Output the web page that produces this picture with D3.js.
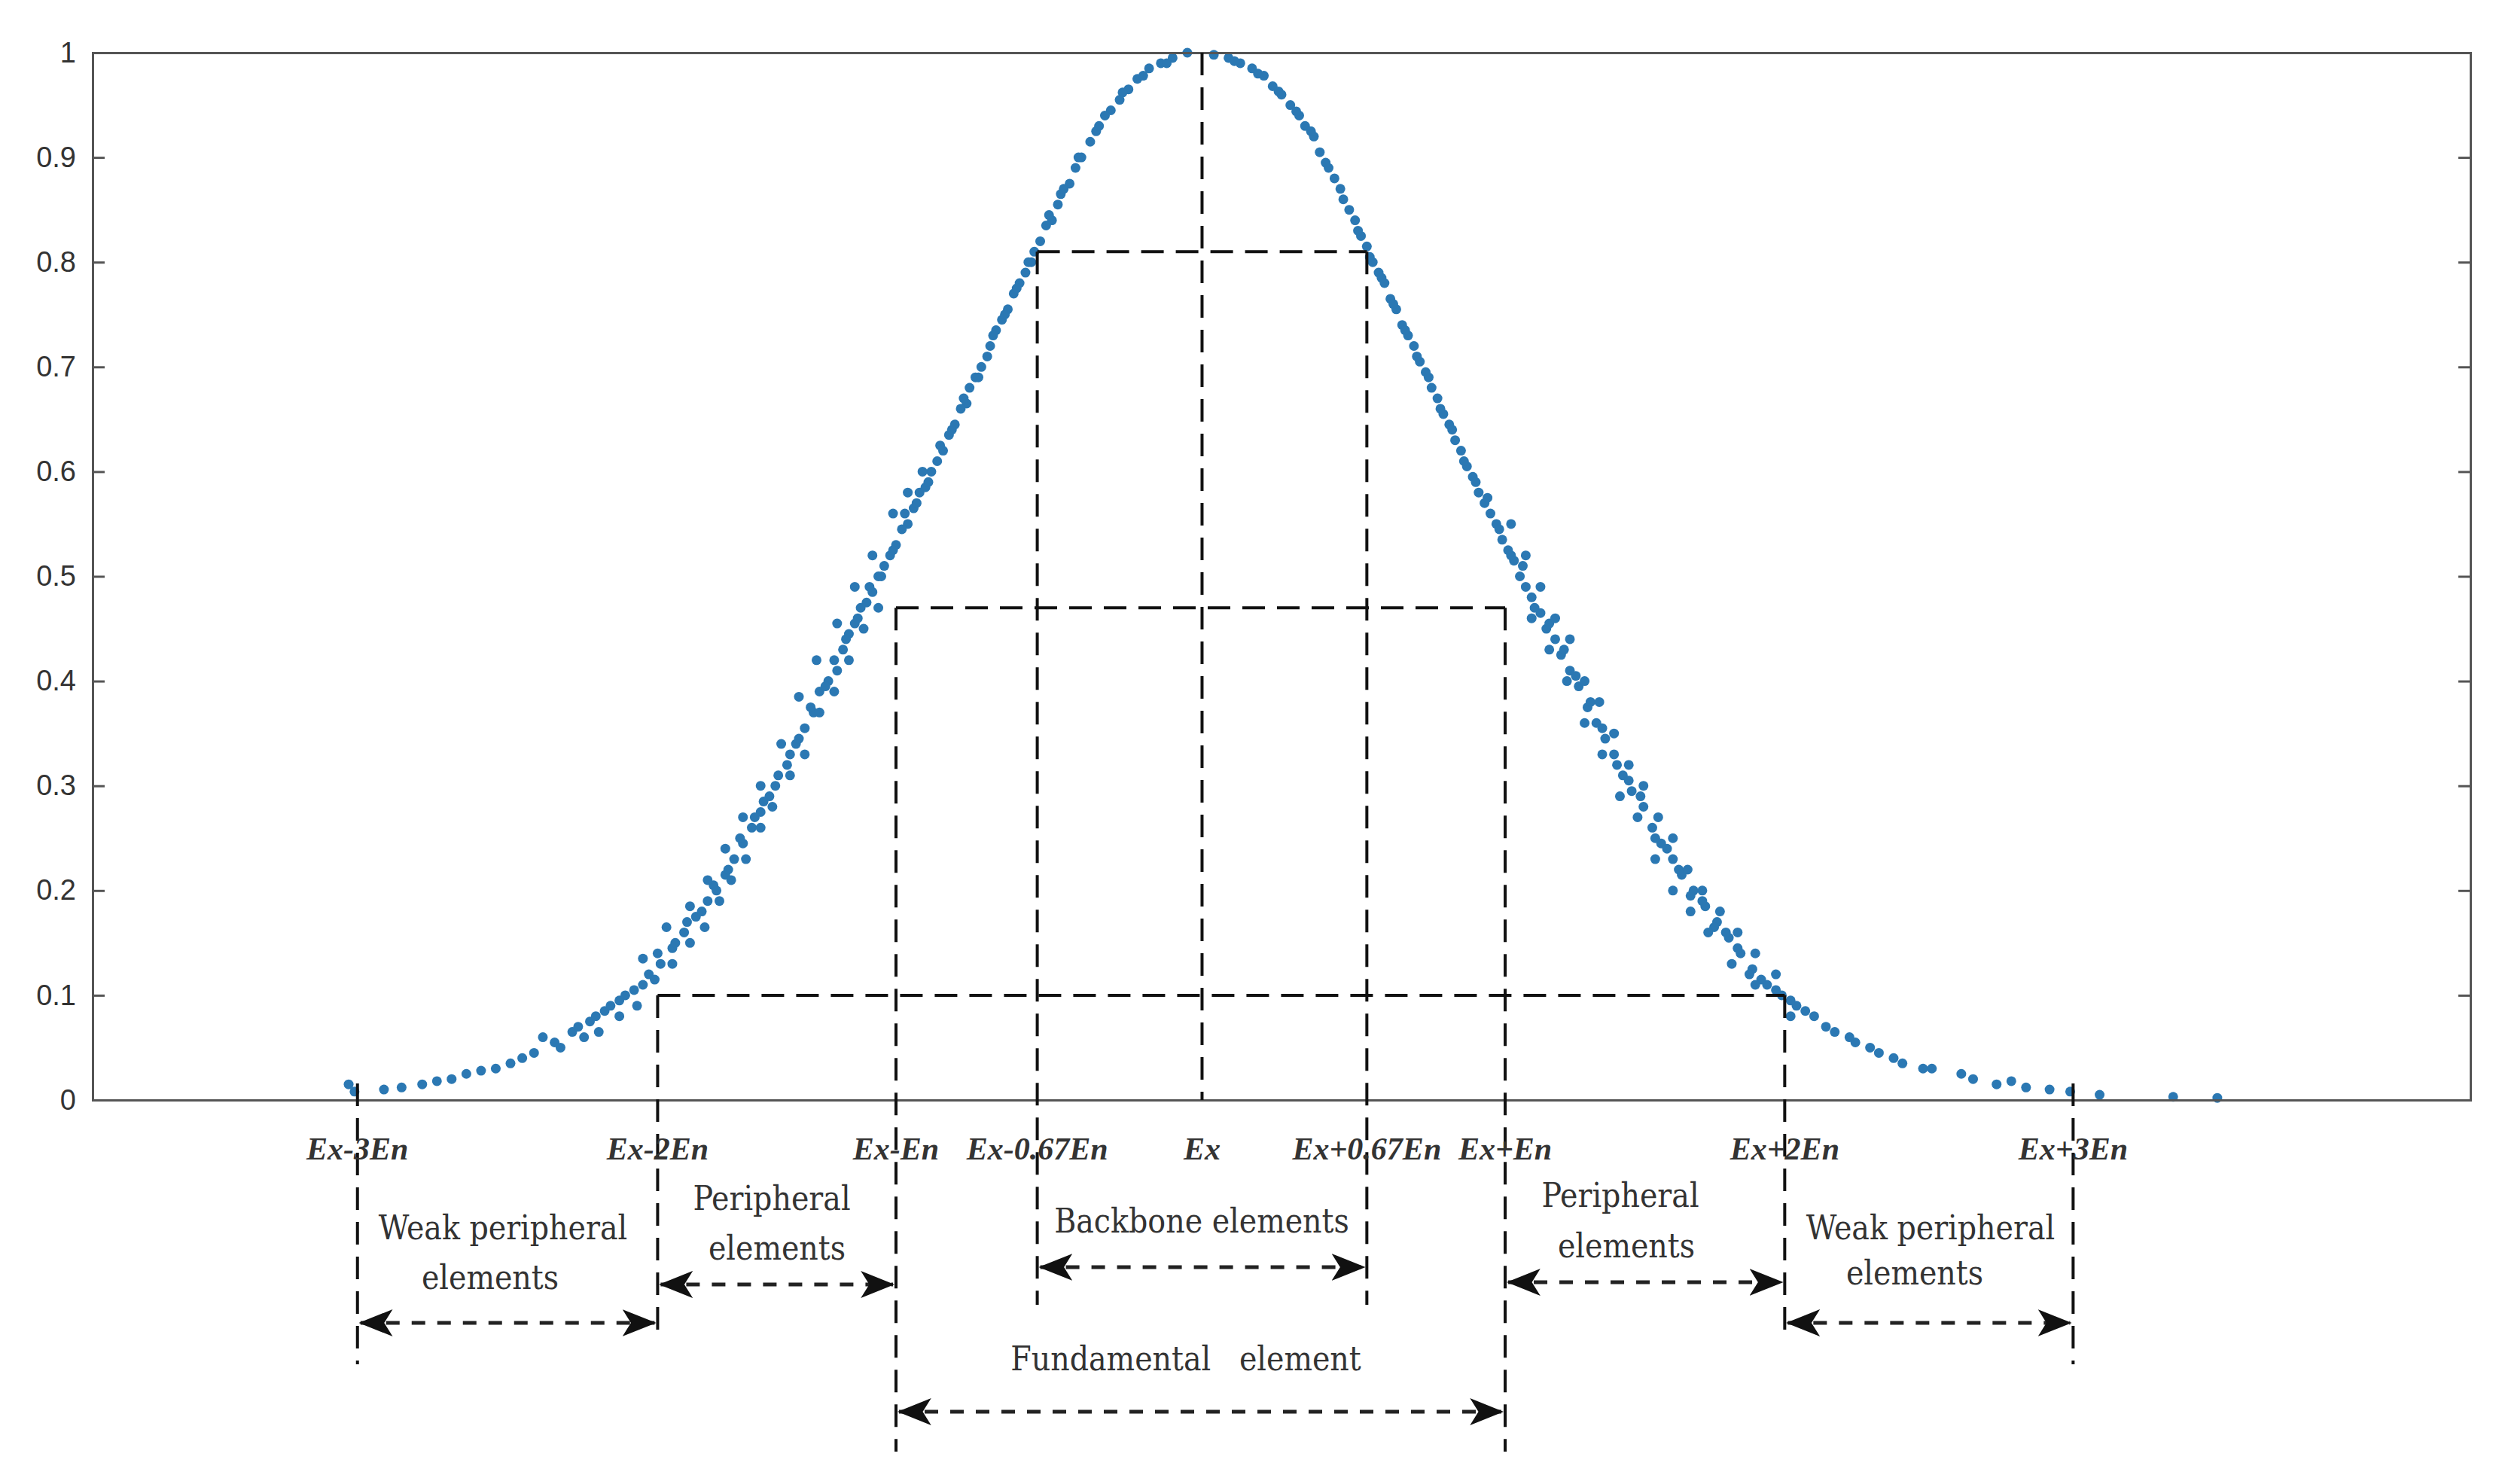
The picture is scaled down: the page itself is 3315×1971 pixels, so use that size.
<!DOCTYPE html>
<html><head><meta charset="utf-8">
<script src="https://cdn.jsdelivr.net/npm/d3@7/dist/d3.min.js"></script>
<style>body{margin:0;background:#fff}</style>
</head><body><div id="chart"></div>
<script>
// x in En units (Ex = 0), y = certainty degree
const yTicks = [0, 0.1, 0.2, 0.3, 0.4, 0.5, 0.6, 0.7, 0.8, 0.9, 1];
const xMarks = [-2.87, -1.85, -1.04, -0.56, 0, 0.56, 1.03, 1.98, 2.96];
const xMarkLabels = ["Ex-3En", "Ex-2En", "Ex-En", "Ex-0.67En", "Ex", "Ex+0.67En", "Ex+En", "Ex+2En", "Ex+3En"];
// bottom end of each dashed vertical (page px)
const xMarkEnds = [1812, 1780, 1928, 1733, 1461, 1733, 1928, 1780, 1812];
// boxes: [level, left mark index, right mark index]
const levels = [[0.81, 3, 5], [0.47, 2, 6], [0.1, 1, 7]];
// span arrows: [from mark, to mark, page y]
const spans = [[0, 1, 1757], [1, 2, 1706], [3, 5, 1683], [2, 6, 1875], [6, 7, 1703], [7, 8, 1757]];
const spanLabels = [
  [["Weak peripheral", 668, 1646], ["elements", 651, 1712]],
  [["Peripheral", 1025, 1607], ["elements", 1032, 1673]],
  [["Backbone elements", 1596, 1637]],
  [["Fundamental   element", 1575, 1820]],
  [["Peripheral", 2152, 1603], ["elements", 2160, 1670]],
  [["Weak peripheral", 2564, 1646], ["elements", 2543, 1706]]
];

const dropsLeft = [[-0.05,1.0],[-0.1,0.995],[-0.14,0.99],[-0.18,0.985],[-0.22,0.975],[-0.25,0.965],[-0.28,0.955],[-0.31,0.945],[-0.33,0.94],[-0.36,0.925],[-0.38,0.915],[-0.41,0.90],[-0.43,0.89],[-0.45,0.875],[-0.47,0.87],[-0.49,0.855],[-0.51,0.84],[-0.53,0.835],[-0.55,0.82],[-0.57,0.81],[-0.59,0.80],[-0.60,0.79],[-0.62,0.78],[-0.64,0.77],[-0.66,0.755],[-0.68,0.745],[-0.70,0.735],[-0.72,0.72],[-0.73,0.71],[-0.75,0.70],[-0.77,0.69],[-0.79,0.68],[-0.80,0.665],[-0.82,0.66],[-0.84,0.645],[-0.86,0.635],[-0.88,0.62],[-0.90,0.61],[-0.92,0.60],[-0.94,0.585],[-0.96,0.58],[-0.98,0.565],[-1.00,0.55],[-1.02,0.545],[-1.04,0.53],[-1.06,0.52],[-1.08,0.51],[-1.10,0.50],[-1.12,0.485],[-1.14,0.475],[-1.16,0.47],[-1.18,0.455],[-1.20,0.445],[-1.22,0.43],[-1.25,0.42],[-1.27,0.40],[-1.30,0.39],[-1.32,0.37],[-1.35,0.355],[-1.38,0.34],[-1.41,0.32],[-1.44,0.31],[-1.47,0.29],[-1.50,0.275],[-1.53,0.26],[-1.56,0.245],[-1.59,0.23],[-1.62,0.215],[-1.65,0.20],[-1.68,0.19],[-1.72,0.175],[-1.76,0.16],[-1.80,0.145],[-1.84,0.13],[-1.88,0.12],[-1.93,0.105],[-1.98,0.095],[-2.03,0.085],[-2.08,0.075],[-2.14,0.065],[-2.2,0.055],[-2.27,0.045],[-2.35,0.035],[-2.45,0.028],[-2.55,0.02],[-2.65,0.015],[-2.78,0.01],[-2.88,0.008],
[-0.12,0.99],[-0.2,0.978],[-0.27,0.962],[-0.35,0.93],[-0.42,0.9],[-0.48,0.865],[-0.52,0.845],[-0.58,0.8],[-0.63,0.775],[-0.67,0.75],[-0.71,0.73],[-0.76,0.69],[-0.81,0.67],[-0.85,0.64],[-0.89,0.625],[-0.93,0.59],[-0.97,0.57],[-1.01,0.56],[-1.05,0.525],[-1.09,0.50],[-1.13,0.49],[-1.17,0.46],[-1.21,0.44],[-1.24,0.41],[-1.28,0.395],[-1.33,0.375],[-1.37,0.345],[-1.40,0.33],[-1.45,0.30],[-1.49,0.285],[-1.52,0.27],[-1.57,0.25],[-1.61,0.22],[-1.66,0.205],[-1.70,0.18],[-1.75,0.17],[-1.79,0.15],[-1.85,0.14],[-1.90,0.11],[-1.96,0.10],[-2.01,0.09],[-2.06,0.08],[-2.12,0.07],[-2.24,0.06],[-2.31,0.04],[-2.4,0.03],[-2.5,0.025],[-2.6,0.018],[-2.72,0.012],[-2.9,0.015],
[-1.10,0.47],[-1.15,0.45],[-1.2,0.42],[-1.25,0.39],[-1.3,0.37],[-1.35,0.33],[-1.4,0.31],[-1.46,0.28],[-1.5,0.26],[-1.55,0.23],[-1.6,0.21],[-1.64,0.19],[-1.69,0.165],[-1.74,0.15],[-1.8,0.13],[-1.86,0.115],[-1.92,0.09],[-1.98,0.08],[-2.05,0.065],[-2.1,0.06],[-2.18,0.05],[-1.05,0.56],[-1.0,0.58],[-0.95,0.6],[-1.12,0.52],[-1.18,0.49],[-1.24,0.455],[-1.31,0.42],[-1.37,0.385],[-1.43,0.34],[-1.5,0.3],[-1.56,0.27],[-1.62,0.24],[-1.68,0.21],[-1.74,0.185],[-1.82,0.165],[-1.9,0.135]];

const dropsRight = [[0.04,0.998],[0.09,0.995],[0.13,0.99],[0.17,0.985],[0.21,0.978],[0.24,0.968],[0.27,0.96],[0.3,0.95],[0.33,0.94],[0.35,0.93],[0.38,0.92],[0.4,0.905],[0.42,0.895],[0.45,0.88],[0.47,0.87],[0.5,0.85],[0.52,0.84],[0.54,0.825],[0.56,0.815],[0.58,0.8],[0.6,0.79],[0.62,0.78],[0.64,0.765],[0.66,0.755],[0.68,0.74],[0.7,0.73],[0.72,0.72],[0.74,0.705],[0.76,0.695],[0.78,0.68],[0.8,0.67],[0.82,0.655],[0.84,0.645],[0.86,0.63],[0.88,0.62],[0.9,0.605],[0.92,0.595],[0.94,0.58],[0.96,0.57],[0.98,0.56],[1.0,0.55],[1.02,0.535],[1.04,0.525],[1.06,0.515],[1.08,0.5],[1.1,0.49],[1.12,0.48],[1.15,0.465],[1.17,0.45],[1.2,0.44],[1.22,0.425],[1.25,0.41],[1.28,0.395],[1.31,0.375],[1.34,0.36],[1.37,0.345],[1.4,0.33],[1.43,0.31],[1.46,0.295],[1.5,0.28],[1.53,0.26],[1.56,0.245],[1.6,0.23],[1.63,0.215],[1.67,0.2],[1.71,0.185],[1.75,0.17],[1.79,0.155],[1.83,0.14],[1.87,0.125],[1.92,0.11],[1.97,0.1],[2.02,0.09],[2.08,0.08],[2.15,0.065],[2.22,0.055],[2.3,0.045],[2.38,0.035],[2.48,0.03],[2.58,0.025],[2.7,0.015],[2.8,0.012],[2.95,0.008],[3.05,0.005],[3.3,0.003],[3.45,0.002],
[0.11,0.992],[0.19,0.98],[0.26,0.963],[0.32,0.944],[0.37,0.925],[0.43,0.89],[0.48,0.86],[0.53,0.83],[0.57,0.805],[0.61,0.785],[0.65,0.76],[0.69,0.735],[0.73,0.71],[0.77,0.69],[0.81,0.66],[0.85,0.64],[0.89,0.61],[0.93,0.59],[0.97,0.575],[1.01,0.545],[1.05,0.52],[1.09,0.51],[1.13,0.47],[1.18,0.455],[1.23,0.43],[1.27,0.405],[1.32,0.38],[1.36,0.355],[1.41,0.32],[1.45,0.305],[1.49,0.29],[1.54,0.25],[1.58,0.24],[1.62,0.22],[1.66,0.195],[1.7,0.19],[1.74,0.165],[1.78,0.16],[1.82,0.145],[1.86,0.12],[1.9,0.115],[1.95,0.105],[2.0,0.095],[2.05,0.085],[2.12,0.07],[2.2,0.06],[2.27,0.05],[2.35,0.04],[2.45,0.03],[2.62,0.02],[2.75,0.018],[2.88,0.01],
[1.05,0.55],[1.1,0.52],[1.15,0.49],[1.2,0.46],[1.25,0.44],[1.3,0.4],[1.35,0.38],[1.4,0.35],[1.45,0.32],[1.5,0.3],[1.55,0.27],[1.6,0.25],[1.65,0.22],[1.7,0.2],[1.76,0.18],[1.82,0.16],[1.88,0.14],[1.95,0.12],[1.12,0.46],[1.18,0.43],[1.24,0.4],[1.3,0.36],[1.36,0.33],[1.42,0.29],[1.48,0.27],[1.54,0.23],[1.6,0.2],[1.66,0.18],[1.72,0.16],[1.8,0.13],[1.88,0.11],[2.0,0.08]];

const width = 3315, height = 1971;
const margin = {left: 123, right: 34, top: 70, bottom: 510};

const svg = d3.select("#chart").append("svg")
    .attr("width", width).attr("height", height);

const x = d3.scaleLinear().domain([-3.77, 4.31]).range([margin.left, width - margin.right]);
const y = d3.scaleLinear().domain([0, 1]).range([height - margin.bottom, margin.top]);

// drops
svg.append("g").selectAll("circle")
    .data(dropsLeft.concat(dropsRight))
    .join("circle")
    .attr("cx", d => x(d[0]))
    .attr("cy", d => y(d[1]))
    .attr("r", 6.5)
    .attr("fill", "#2b78b3");

// axes box
const yAxis = d3.axisLeft(y).tickValues(yTicks).tickSize(-16).tickPadding(22)
    .tickFormat(d => d === 0 ? "0" : d === 1 ? "1" : d3.format(".1f")(d));
const gy = svg.append("g").attr("transform", `translate(${margin.left},0)`).call(yAxis);
gy.selectAll("text").attr("font-family", "Liberation Sans, Arial").attr("font-size", 38).attr("fill", "#333");
svg.append("g").attr("transform", `translate(${width - margin.right},0)`)
    .call(d3.axisRight(y).tickValues(yTicks).tickSize(-16).tickFormat(""));
svg.append("g").attr("transform", `translate(0,${y(0)})`)
    .call(d3.axisBottom(x).tickValues([]).tickSizeOuter(0));
svg.append("g").attr("transform", `translate(0,${y(1)})`)
    .call(d3.axisTop(x).tickValues([]).tickSizeOuter(0));
svg.selectAll(".domain, .tick line").attr("stroke", "#555").attr("stroke-width", 3);

const dash = "30,16";
const lines = svg.append("g").attr("stroke", "#111").attr("stroke-width", 4).attr("fill", "none");

// horizontal levels
levels.forEach(([lv, a, b]) => {
  lines.append("line").attr("x1", x(xMarks[a])).attr("x2", x(xMarks[b]))
    .attr("y1", y(lv)).attr("y2", y(lv)).attr("stroke-dasharray", dash);
});
// verticals
const topOf = i => {
  if (i === 4) return y(1);
  const lv = levels.find(l => l[1] === i || l[2] === i);
  return lv ? y(lv[0]) : y(0) - 22;
};
xMarks.forEach((m, i) => {
  lines.append("line").attr("x1", x(m)).attr("x2", x(m))
    .attr("y1", topOf(i)).attr("y2", xMarkEnds[i]).attr("stroke-dasharray", dash);
});

// mark labels
svg.append("g").selectAll("text").data(xMarks).join("text")
    .attr("x", d => x(d)).attr("y", 1540)
    .attr("text-anchor", "middle")
    .attr("font-family", "Liberation Serif, Times New Roman").attr("font-style", "italic")
    .attr("font-weight", "bold")
    .attr("font-size", 42).attr("fill", "#333")
    .text((d, i) => xMarkLabels[i]);

// span arrows
const defs = svg.append("defs");
defs.append("marker").attr("id", "ah").attr("viewBox", "0 0 20 16").attr("refX", 19).attr("refY", 8)
    .attr("markerWidth", 9).attr("markerHeight", 8).attr("markerUnits", "strokeWidth").attr("orient", "auto-start-reverse")
  .append("path").attr("d", "M0,0 L20,8 L0,16 L5,8 Z").attr("fill", "#111");
spans.forEach(([a, b, py]) => {
  svg.append("line").attr("x1", x(xMarks[a]) + 4).attr("x2", x(xMarks[b]) - 4)
    .attr("y1", py).attr("y2", py)
    .attr("stroke", "#222").attr("stroke-width", 5).attr("stroke-dasharray", "18,16")
    .attr("marker-start", "url(#ah)").attr("marker-end", "url(#ah)");
});

// span labels
spanLabels.forEach(rows => rows.forEach(([t, px, py]) => {
  svg.append("text").attr("x", px).attr("y", py).attr("text-anchor", "middle")
    .attr("font-family", "DejaVu Serif Condensed, DejaVu Serif").attr("font-stretch", "condensed")
    .attr("font-size", 44).attr("fill", "#333")
    .style("white-space", "pre").text(t);
}));
</script>
</body></html>
